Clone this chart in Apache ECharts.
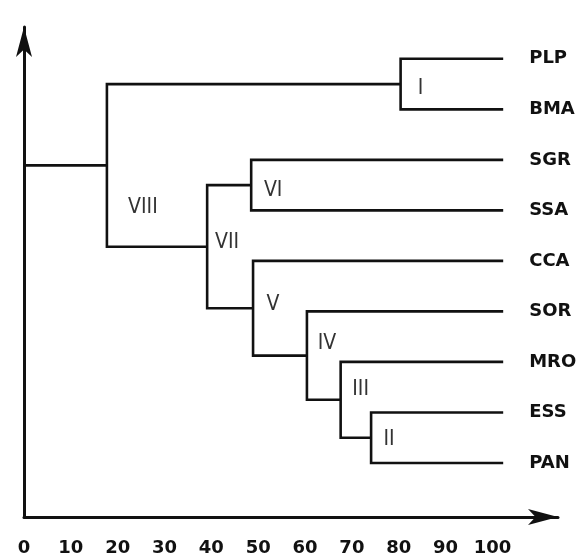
<!DOCTYPE html>
<html>
<head>
<meta charset="utf-8">
<script src="https://cdn.jsdelivr.net/npm/echarts@6/dist/echarts.min.js"></script>
<style>
  html, body { margin: 0; padding: 0; background: #ffffff; }
  #chart { width: 585px; height: 558px; }
</style>
</head>
<body>
<div id="chart"></div>
<script>
// ---- data ----
const leaves = ['PLP', 'BMA', 'SGR', 'SSA', 'CCA', 'SOR', 'MRO', 'ESS', 'PAN'];
const leafHeight = 102.3;
const clusterNames   = ['II',  'III', 'IV',  'V',   'VI',  'VII', 'I',   'VIII'];
const clusterLeft    = ['ESS', 'MRO', 'SOR', 'CCA', 'SGR', 'VI',  'PLP', 'I'];
const clusterRight   = ['PAN', 'II',  'III', 'IV',  'SSA', 'V',   'BMA', 'VII'];
const clusterHeights = [74.1,  67.6,  60.4,  48.9,  48.5,  39.1,  80.4,  17.7];
const xTickLabels = [0, 10, 20, 30, 40, 50, 60, 70, 80, 90, 100];

// ---- styling (label nudges in pixels) ----
const clusterLabelOffset = {
  'I': [20, 4], 'II': [18, 2], 'III': [20, -10], 'IV': [20, -12],
  'V': [20, -4], 'VI': [22, 5], 'VII': [20, -4], 'VIII': [36, 42]
};

// ---- build tree geometry in data units ----
const pos = {};
leaves.forEach((name, i) => { pos[name] = { x: leafHeight, y: leaves.length - 1 - i }; });
const linesData = [];
clusterNames.forEach((name, i) => {
  const a = pos[clusterLeft[i]], b = pos[clusterRight[i]];
  const h = clusterHeights[i];
  pos[name] = { x: h, y: (a.y + b.y) / 2 };
  linesData.push({ coords: [[a.x, a.y], [h, a.y], [h, b.y], [b.x, b.y]] });
});
const root = pos[clusterNames[clusterNames.length - 1]];
linesData.push({ coords: [[0, root.y], [root.x, root.y]] });

const leafPoints = leaves.map(n => ({ name: n, value: [pos[n].x, pos[n].y] }));
const clusterPoints = clusterNames.map(n => ({
  name: n, value: [pos[n].x, pos[n].y],
  label: { offset: clusterLabelOffset[n] }
}));

const chart = echarts.init(document.getElementById('chart'), null, { renderer: 'canvas' });
chart.setOption({
  animation: false,
  backgroundColor: '#ffffff',
  grid: { left: 24, right: 27, top: 27, bottom: 41, containLabel: false },
  xAxis: {
    type: 'value', min: 0, max: 114, interval: 10,
    splitLine: { show: false },
    axisTick: { show: false },
    axisLine: { show: true, onZero: false, symbol: ['none', 'arrow'], symbolSize: [12, 30],
                lineStyle: { color: '#111', width: 3 } },
    axisLabel: {
      margin: 22, fontSize: 18, fontWeight: 'bold', color: '#111',
      fontFamily: "'DejaVu Sans', Verdana, sans-serif",
      showMaxLabel: false,
      formatter: v => xTickLabels.includes(v) ? String(v) : ''
    }
  },
  yAxis: {
    type: 'value', min: -1.07, max: 8.63,
    splitLine: { show: false },
    axisTick: { show: false },
    axisLabel: { show: false },
    axisLine: { show: true, onZero: false, symbol: ['none', 'arrow'], symbolSize: [12, 30],
                lineStyle: { color: '#111', width: 3 } }
  },
  series: [
    {
      type: 'lines', coordinateSystem: 'cartesian2d', polyline: true,
      lineStyle: { color: '#111', width: 2.6, opacity: 1 },
      silent: true,
      data: linesData
    },
    {
      type: 'scatter', symbolSize: 0, silent: true,
      itemStyle: { opacity: 1 },
      data: leafPoints,
      label: {
        show: true, position: 'right', distance: 26,
        formatter: p => p.name,
        fontSize: 18, fontWeight: 'bold', color: '#111',
        fontFamily: "'DejaVu Sans', Verdana, sans-serif"
      }
    },
    {
      type: 'scatter', symbolSize: 0, silent: true,
      itemStyle: { opacity: 1 },
      data: clusterPoints,
      label: {
        show: true, position: 'inside',
        formatter: p => p.name,
        fontSize: 21, color: '#333',
        fontFamily: "'Liberation Sans Narrow', 'DejaVu Sans Condensed', 'Liberation Sans', sans-serif"
      }
    }
  ]
});
</script>
</body>
</html>
